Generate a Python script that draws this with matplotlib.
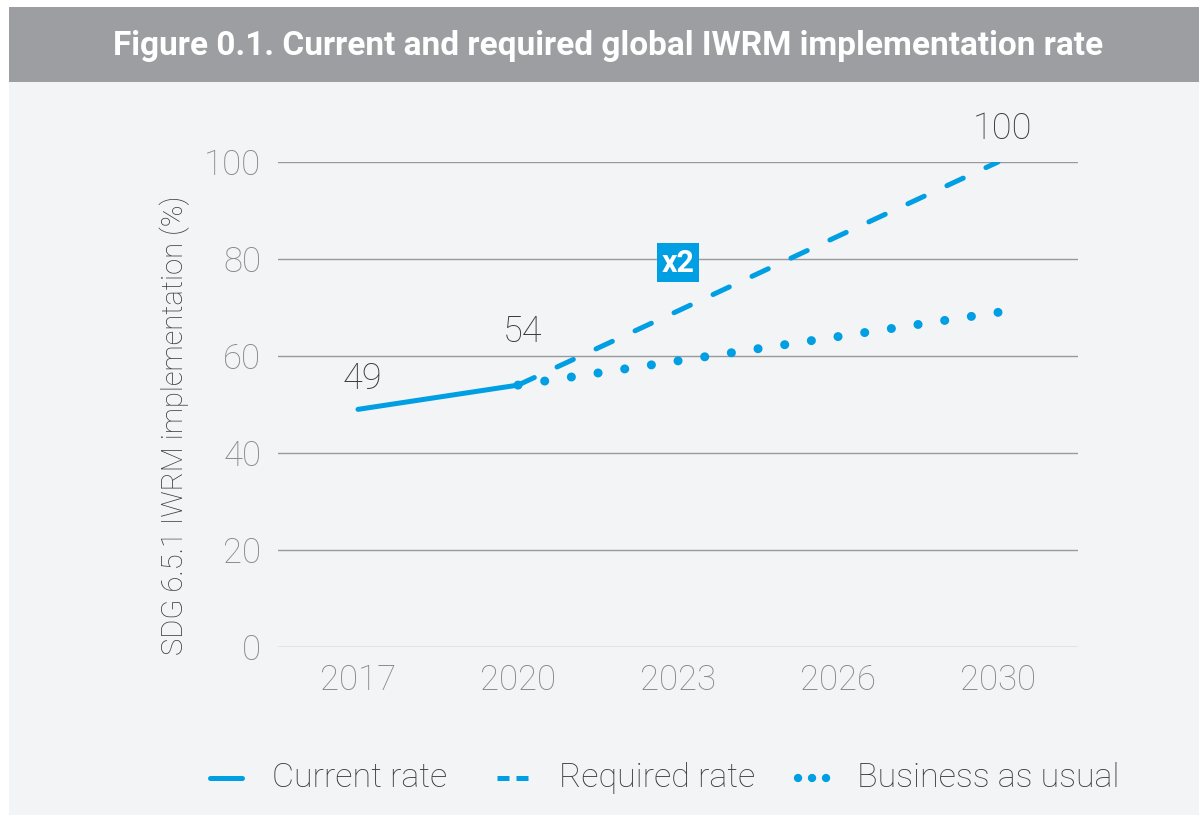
import matplotlib.pyplot as plt
from matplotlib.patches import Rectangle

# Data
years = ['2017', '2020', '2023', '2026', '2030']
current_x = [0, 1]
current_rate = [49, 54]
required_x = [1, 2, 3, 4]
required_rate = [54, 69.3, 84.7, 100]
bau_x = [1, 2, 3, 4]
business_as_usual = [54, 59, 64, 69]
value_labels = [(0, 49, '49'), (1, 54, '54'), (4, 100, '100')]

blue = '#009fe3'
dark = '#3a3a3a'
light_gray = '#888888'

plt.rcParams['font.family'] = ['Roboto', 'DejaVu Sans']

fig = plt.figure(figsize=(11.99, 8.21), dpi=100)
fig.patch.set_facecolor('white')

# background panel and title banner
fig.patches.append(Rectangle((9 / 1199, 0.007), 1 - 9 / 1199, 1 - 82 / 821 - 0.007,
                             transform=fig.transFigure, facecolor='#f3f4f6',
                             edgecolor='none', zorder=-2))
fig.patches.append(Rectangle((9 / 1199, 1 - 82 / 821), 1 - 9 / 1199, 75 / 821,
                             transform=fig.transFigure, facecolor='#9d9ea2',
                             edgecolor='none', zorder=-2))
fig.text(608 / 1199, 1 - 46 / 821, 'Figure 0.1. Current and required global IWRM implementation rate',
         ha='center', va='center', color='white', fontsize=24, fontweight='bold')

ax = fig.add_axes([278 / 1199, 1 - 647 / 821, 800 / 1199, 485 / 821])
ax.set_facecolor('none')
ax.set_zorder(2)

ax.plot(current_x, current_rate, color=blue, lw=3.6, solid_capstyle='round', zorder=3)
ax.plot(required_x, required_rate, color=blue, lw=3.6, linestyle=(0, (3.6, 5)),
        dash_capstyle='round', zorder=3)
# spacing chosen so a dot sits on both ends
ax.plot(bau_x, business_as_usual, color=blue, lw=6.5, linestyle=(0, (0.01, 2.9775)),
        dash_capstyle='round', zorder=3)

label_offset = {'49': 2.6, '54': 7.2, '100': 3.0}
for x, y, s in value_labels:
    ax.text(x + 0.03, y + label_offset[s], s, ha='center', va='bottom', fontsize=26,
            color=dark, fontweight='light')

ax.text(2.0, 79.2, 'x2', ha='center', va='center', fontsize=22, color='white',
        fontweight='bold', bbox=dict(boxstyle='square,pad=0.15', facecolor=blue, edgecolor='none'))

ax.set_xlim(-0.5, 4.5)
ax.set_ylim(0, 100)
ax.set_yticks(range(0, 101, 20))
ax.set_xticks(range(len(years)))
ax.set_xticklabels(years)
ax.yaxis.grid(True, color='#999999', lw=1)
ax.set_axisbelow(True)
for sp in ax.spines.values():
    sp.set_visible(False)
ax.tick_params(length=0, labelsize=25, labelcolor=light_gray, pad=12)
for lab in ax.get_xticklabels() + ax.get_yticklabels():
    lab.set_fontweight('light')
ax.set_ylabel('SDG 6.5.1 IWRM implementation (%)', fontsize=21, color=dark,
              fontweight='light')
ax.yaxis.set_label_coords(-0.11, 0.458)

# legend
ly = 1 - 778 / 821
legend_items = [
    (210, 32, 62, 'Current rate', '-', 3.6, 'round'),
    (497, 31, 62, 'Required rate', (0, (2.4, 1.4)), 3.6, 'butt'),
    (798, 29, 59, 'Business as usual', (0, (0.01, 1.67)), 6, 'round'),
]
for x0, w, tx, label, ls, lw, cap in legend_items:
    fig.lines.append(plt.Line2D([x0 / 1199, (x0 + w) / 1199], [ly, ly], transform=fig.transFigure,
                                color=blue, lw=lw, linestyle=ls, solid_capstyle=cap,
                                dash_capstyle=cap))
    fig.text((x0 + tx) / 1199, ly, label, ha='left', va='center',
             fontsize=24.5, color=dark, fontweight='light')

fig.savefig('out.png', dpi=100, facecolor=fig.get_facecolor())
